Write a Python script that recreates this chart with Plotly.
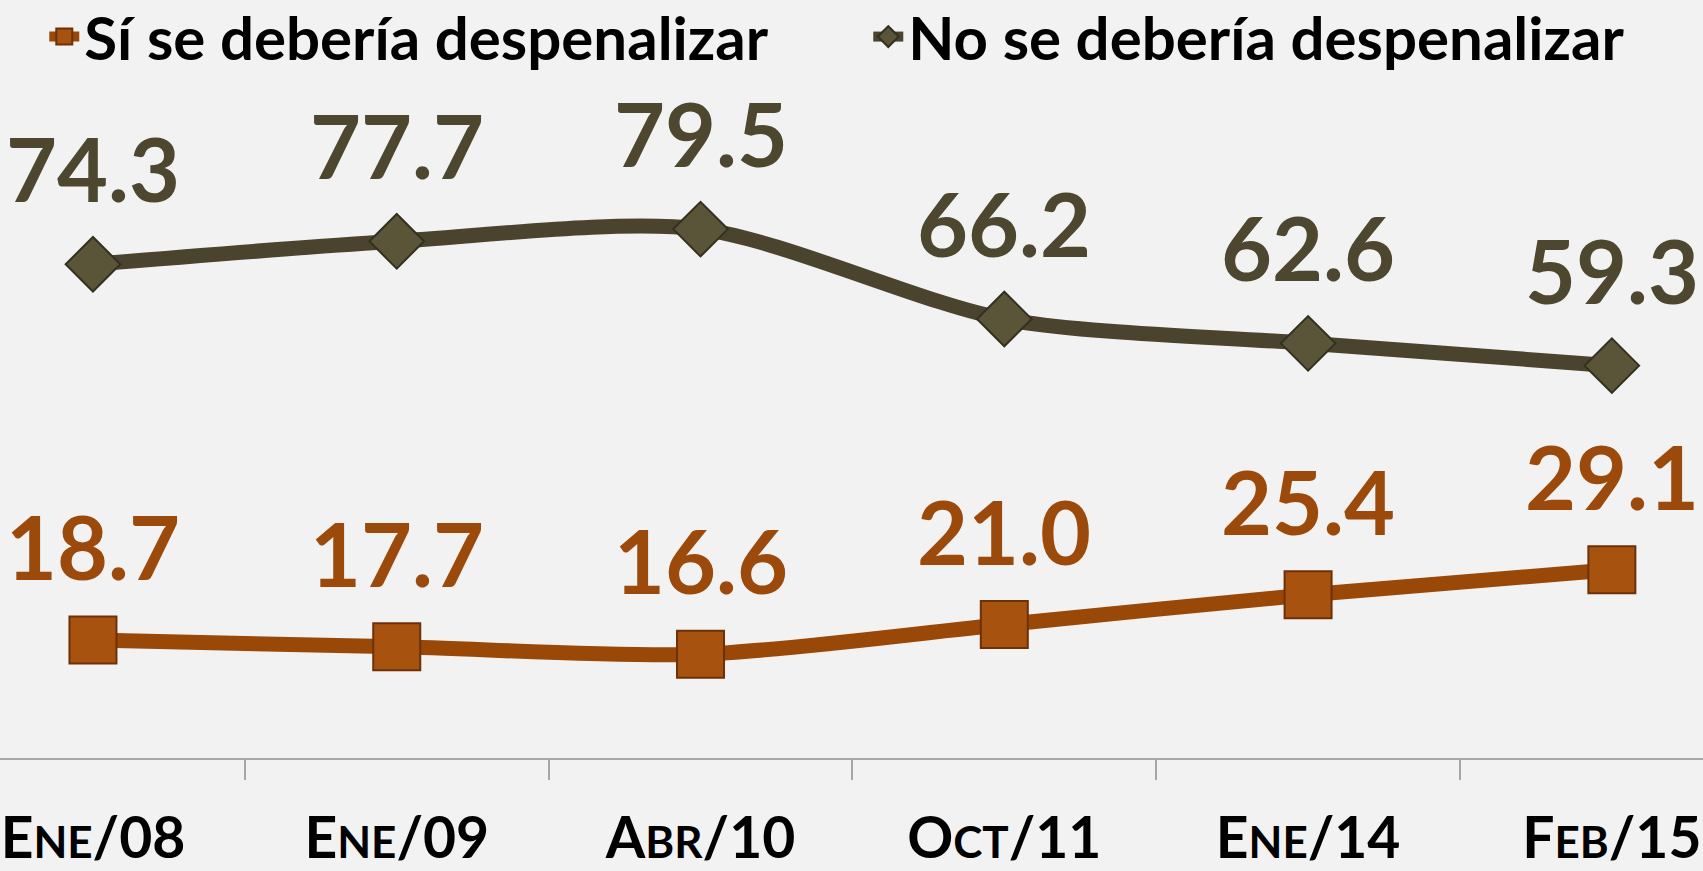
import plotly.graph_objects as go

categories = ["Ene/08", "Ene/09", "Abr/10", "Oct/11", "Ene/14", "Feb/15"]
tick_labels = [
    "E<span style='font-size:44px'>NE</span>/08",
    "E<span style='font-size:44px'>NE</span>/09",
    "A<span style='font-size:44px'>BR</span>/10",
    "O<span style='font-size:44px'>CT</span>/11",
    "E<span style='font-size:44px'>NE</span>/14",
    "F<span style='font-size:44px'>EB</span>/15",
]
si_values = [18.7, 17.7, 16.6, 21.0, 25.4, 29.1]
no_values = [74.3, 77.7, 79.5, 66.2, 62.6, 59.3]
si_name = "Sí se debería despenalizar"
no_name = "No se debería despenalizar"

ORANGE_LINE = "#9A4808"
ORANGE_FILL = "#A8520F"
ORANGE_EDGE = "#6E3006"
ORANGE_TEXT = "#9C4A0C"
DARK_LINE = "#4A432D"
DARK_FILL = "#5A5438"
DARK_EDGE = "#33301F"
DARK_TEXT = "#4D4730"
BG = "#F2F2F2"
FONT = "Lato"

fig = go.Figure()
fig.add_trace(go.Scatter(
    x=categories, y=si_values, name=si_name, mode="lines+markers",
    line=dict(color=ORANGE_LINE, width=15, shape="spline", smoothing=0.8),
    marker=dict(symbol="square", size=47, color=ORANGE_FILL,
                line=dict(color=ORANGE_EDGE, width=2)),
))
fig.add_trace(go.Scatter(
    x=categories, y=no_values, name=no_name, mode="lines+markers",
    line=dict(color=DARK_LINE, width=15, shape="spline", smoothing=0.8),
    marker=dict(symbol="diamond", size=42, color=DARK_FILL,
                line=dict(color=DARK_EDGE, width=2)),
))

annotations = []
for c, v in zip(categories, si_values):
    annotations.append(dict(x=c, y=v, text=f"{v:.1f}", showarrow=False,
                            yshift=94, xanchor="center", yanchor="middle",
                            font=dict(family=FONT, size=88, color=ORANGE_TEXT, weight="bold")))
for c, v in zip(categories, no_values):
    annotations.append(dict(x=c, y=v, text=f"{v:.1f}", showarrow=False,
                            yshift=96, xanchor="center", yanchor="middle",
                            font=dict(family=FONT, size=88, color=DARK_TEXT, weight="bold")))

fig.update_layout(
    width=1703, height=871,
    paper_bgcolor=BG, plot_bgcolor=BG,
    margin=dict(l=0, r=0, t=0, b=113, autoexpand=False),
    font=dict(family=FONT, color="black"),
    showlegend=True,
    legend=dict(orientation="h", x=0.026, y=0.958, xanchor="left", yanchor="middle",
                xref="paper", yref="container",
                font=dict(family=FONT, size=60, color="black", weight="bold"),
                bgcolor="rgba(0,0,0,0)", entrywidth=779, entrywidthmode="pixels",
                itemwidth=30),
    annotations=annotations,
    xaxis=dict(
        type="category", range=[-0.306, 5.30],
        tickmode="array", tickvals=categories, ticktext=tick_labels,
        tickson="boundaries", ticks="outside", ticklen=20, tickwidth=2, tickcolor="#A6A6A6",
        showline=True, linecolor="#A6A6A6", linewidth=2,
        showgrid=False, zeroline=False, ticklabelstandoff=30,
        tickfont=dict(family=FONT, size=57, color="black", weight="bold"),
    ),
    yaxis=dict(range=[1.25, 113.4], visible=False, showgrid=False, zeroline=False),
)

fig.write_html(
    "out.html",
    config={"displayModeBar": False},
    post_script="document.body.style.margin='0';document.body.style.background='#F2F2F2';document.body.style.overflow='hidden';",
)
